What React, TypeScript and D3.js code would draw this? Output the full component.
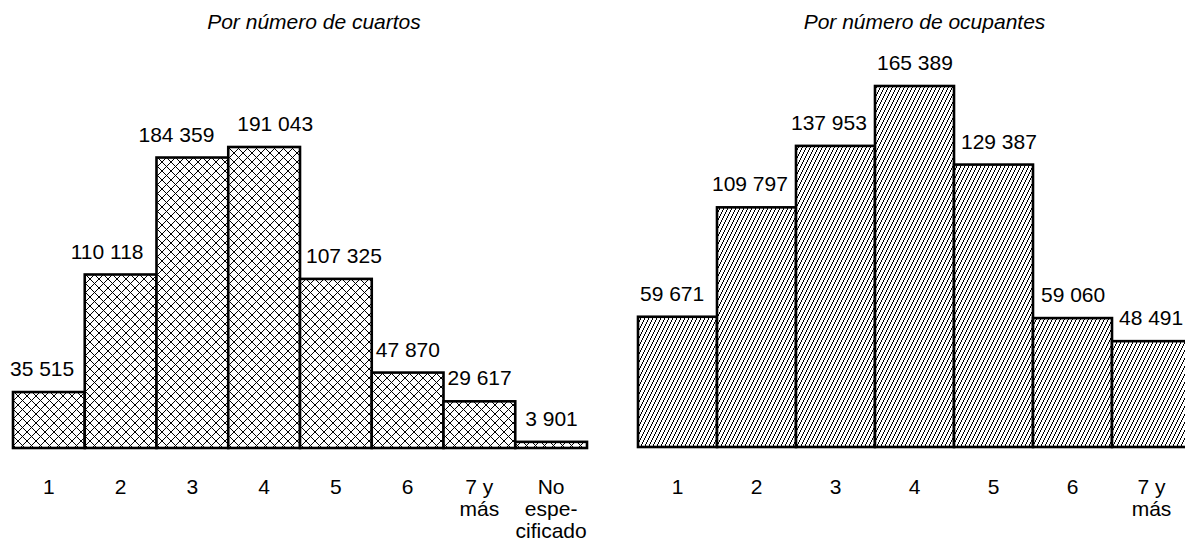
import React from "react";
import * as d3 from "d3";

const cuartosCategories: string[][] = [["1"], ["2"], ["3"], ["4"], ["5"], ["6"], ["7 y", "más"], ["No", "espe-", "cificado"]];
const cuartosValues: number[] = [35515, 110118, 184359, 191043, 107325, 47870, 29617, 3901];
const ocupantesCategories: string[][] = [["1"], ["2"], ["3"], ["4"], ["5"], ["6"], ["7 y", "más"]];
const ocupantesValues: number[] = [59671, 109797, 137953, 165389, 129387, 59060, 48491];
const titles: string[] = ["Por número de cuartos", "Por número de ocupantes"];

// label nudges (px, relative to bar left edge)
const cuartosLabelDx = [-3, -14, -18, 9, 6, 4, 4, 10];
const ocupantesLabelDx = [2, -5, -5, 2, 7, 8, 7];

const W = 1185;
const H = 542;
const FONT = "'Liberation Sans', Arial, sans-serif";

const fmt = d3.formatLocale({ decimal: ".", thousands: " ", grouping: [3], currency: ["", ""] }).format(",");

type PanelProps = {
  cats: string[][];
  values: number[];
  title: string;
  x0: number;
  x1: number;
  baseY: number;
  topY: number;
  fill: string;
  dx: number[];
  titleOffset: number;
};

function Panel({ cats, values, title, x0, x1, baseY, topY, fill, dx, titleOffset }: PanelProps) {
  const keys = cats.map((c) => c.join(" "));
  const x = d3.scaleBand<string>().domain(keys).range([x0, x1]).padding(0);
  const y = d3.scaleLinear().domain([0, d3.max(values) as number]).range([baseY, topY]);
  const cx = (x0 + x1) / 2 + titleOffset;
  return (
    <g>
      <text x={cx} y={29} textAnchor="middle" fontStyle="italic" fontSize={21} fontFamily={FONT} fill="#000">
        {title}
      </text>
      {values.map((v, i) => (
        <rect
          key={"b" + i}
          x={x(keys[i])}
          y={y(v)}
          width={x.bandwidth()}
          height={baseY - y(v)}
          fill={fill}
          stroke="#000"
          strokeWidth={2.6}
        />
      ))}
      {values.map((v, i) => (
        <text
          key={"l" + i}
          x={(x(keys[i]) as number) + dx[i]}
          y={y(v) - 16}
          fontSize={21}
          fontFamily={FONT}
          fill="#000"
        >
          {fmt(v)}
        </text>
      ))}
      {cats.map((lines, i) => (
        <text
          key={"c" + i}
          x={(x(keys[i]) as number) + x.bandwidth() / 2}
          y={494}
          textAnchor="middle"
          fontSize={21}
          fontFamily={FONT}
          fill="#000"
        >
          {lines.map((ln, j) => (
            <tspan key={j} x={(x(keys[i]) as number) + x.bandwidth() / 2} dy={j === 0 ? 0 : 22}>
              {ln}
            </tspan>
          ))}
        </text>
      ))}
    </g>
  );
}

export default function App() {
  return (
    <svg
      width={W}
      height={H}
      viewBox={`0 0 ${W} ${H}`}
      style={{ position: "absolute", left: 0, top: 0, background: "#fff", display: "block" }}
    >
      <defs>
        <pattern id="cross" patternUnits="userSpaceOnUse" width={9} height={9}>
          <rect width={9} height={9} fill="#fff" />
          <path d="M0,0 L9,9 M0,9 L9,0" stroke="#000" strokeWidth={1} fill="none" shapeRendering="crispEdges" />
        </pattern>
        <pattern id="hatch" patternUnits="userSpaceOnUse" width={4} height={8}>
          <rect width={4} height={8} fill="#fff" />
          <path d="M0,8 L4,0 M-1,2 L0,0 M4,8 L5,6" stroke="#000" strokeWidth={1} fill="none" shapeRendering="crispEdges" />
        </pattern>
      </defs>
      <rect width={W} height={H} fill="#fff" />
      <Panel
        cats={cuartosCategories}
        values={cuartosValues}
        title={titles[0]}
        x0={13}
        x1={587}
        baseY={448}
        topY={147}
        fill="url(#cross)"
        dx={cuartosLabelDx}
        titleOffset={14}
      />
      <Panel
        cats={ocupantesCategories}
        values={ocupantesValues}
        title={titles[1]}
        x0={638}
        x1={1191}
        baseY={447}
        topY={86}
        fill="url(#hatch)"
        dx={ocupantesLabelDx}
        titleOffset={10}
      />
    </svg>
  );
}
